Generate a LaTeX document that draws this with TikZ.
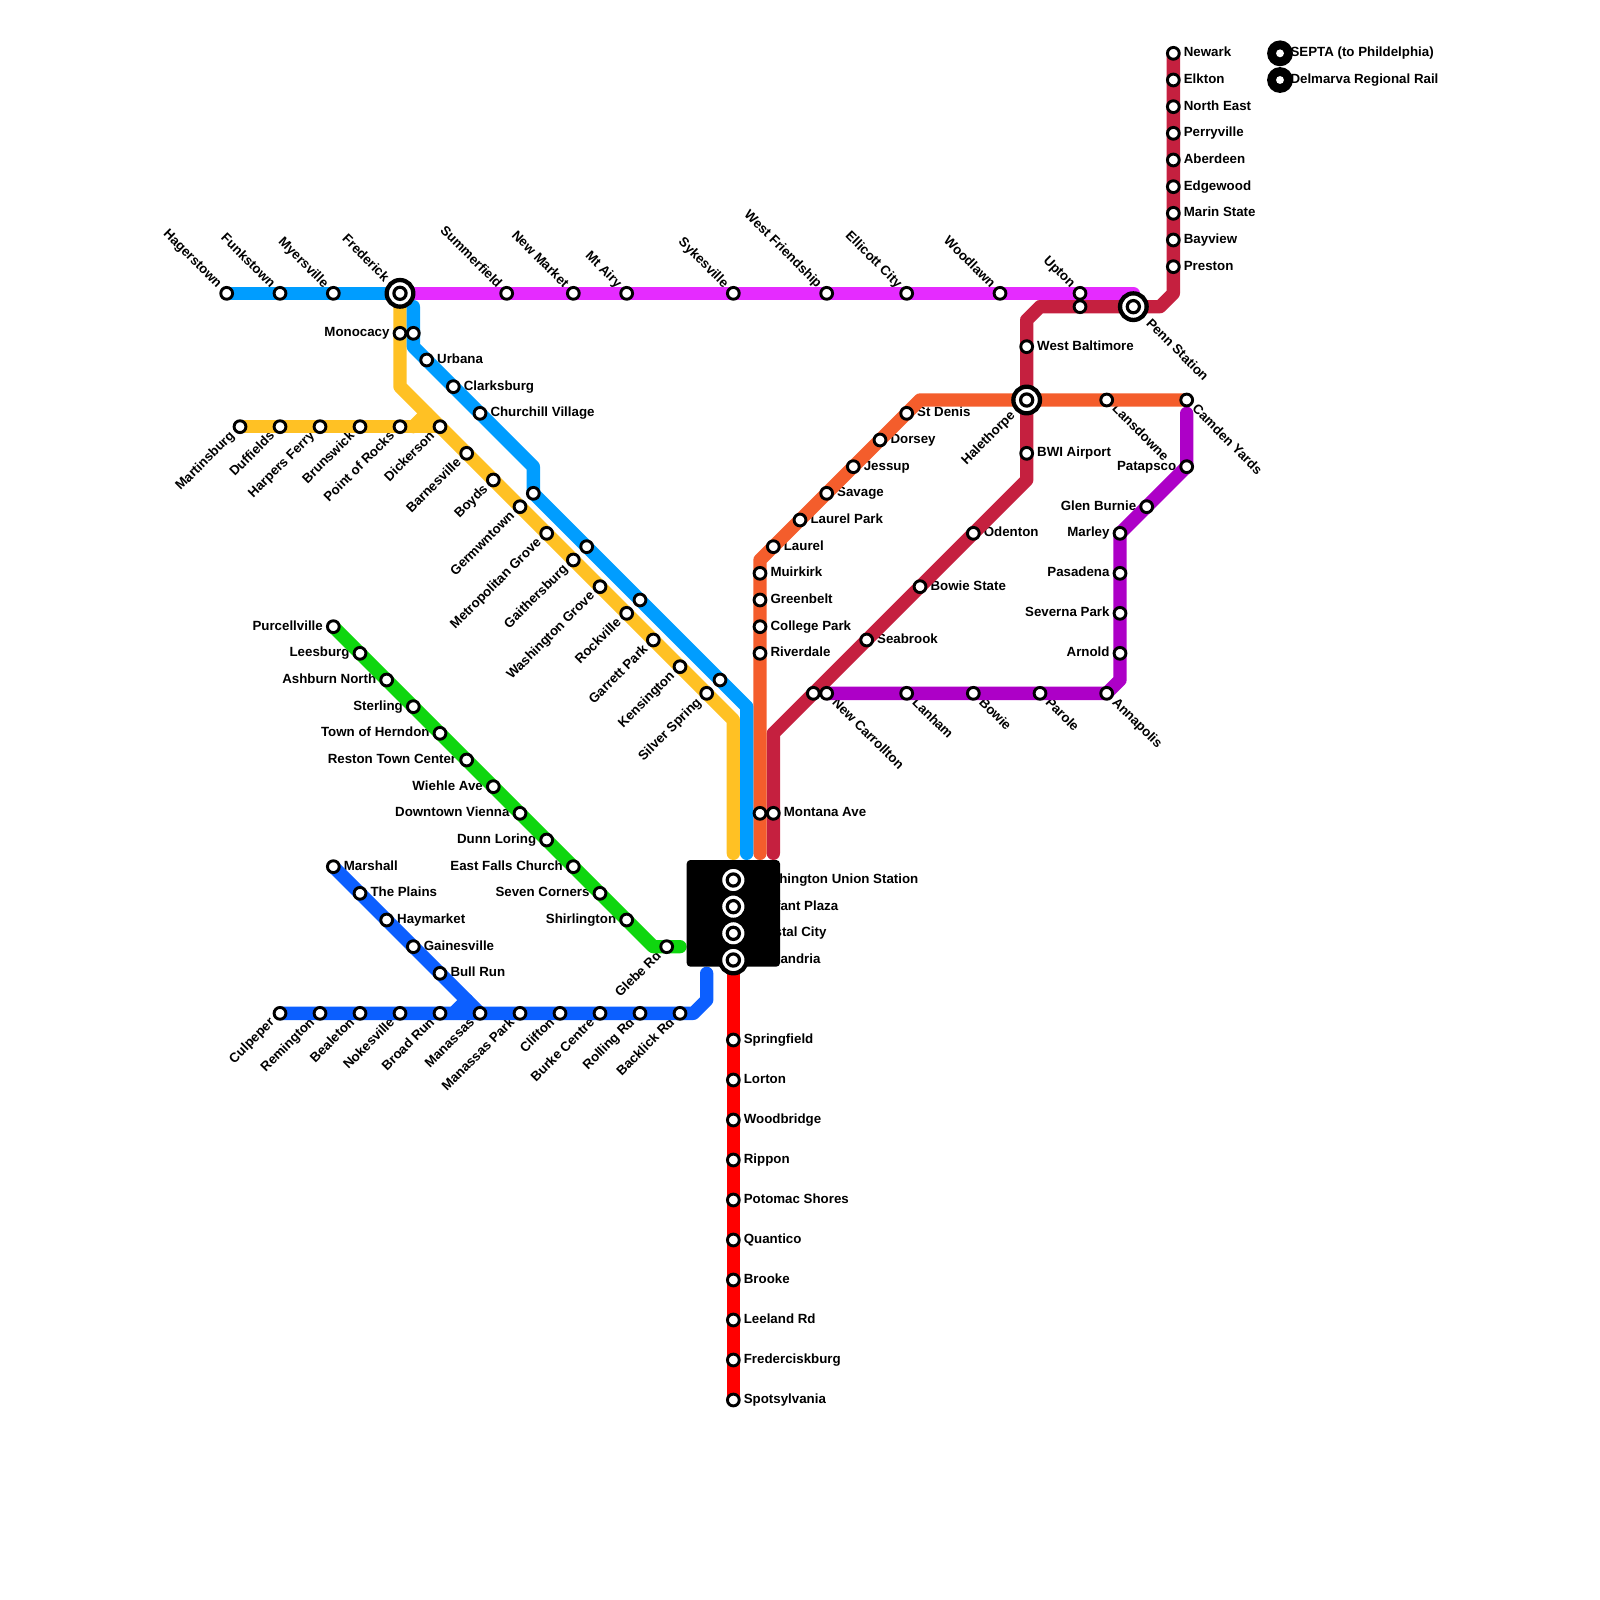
\documentclass[tikz,border=0pt]{standalone}
\usepackage{fontspec}
\setmainfont{Liberation Sans}
\usetikzlibrary{positioning}
\definecolor{figyellow}{HTML}{FFC124}
\definecolor{figblue}{HTML}{009DFF}
\definecolor{figorange}{HTML}{F45D2C}
\definecolor{figcrimson}{HTML}{C5203F}
\definecolor{figpink}{HTML}{E52BFF}
\definecolor{figpurple}{HTML}{AD00C7}
\definecolor{figgreen}{HTML}{0FD60F}
\definecolor{figroyal}{HTML}{0C5FFF}
\definecolor{figred}{HTML}{FF0000}
\pgfdeclarelayer{labels}
\pgfdeclarelayer{lines}
\pgfsetlayers{labels,lines,main}

\begin{document}
\begin{tikzpicture}[
  x=0.25cm, y=-0.25cm,
  metro/.style={line width=0.25cm, line cap=round, line join=round},
  stop/.style={
    circle, draw=black, fill=white, line width=1.55pt,
    minimum size=6.3pt, inner sep=0pt, outer sep=0pt
  },
  ring/.style={
    circle, draw=black, fill=white, line width=2.3pt,
    minimum size=14.2pt, inner sep=0pt, outer sep=0pt
  },
  ringin/.style={
    circle, draw=black, fill=white, line width=1.7pt,
    minimum size=6.5pt, inner sep=0pt, outer sep=0pt
  },
  keydisc/.style={circle, fill=black, minimum size=13.8pt, inner sep=0pt, outer sep=0pt},
  keydot/.style={circle, fill=white, minimum size=4.2pt, inner sep=0pt, outer sep=0pt},
  hubbox/.style={
    rectangle, rounded corners=2pt, fill=black, inner sep=0pt, outer sep=0pt,
    minimum width=1.75cm, minimum height=2cm
  },
  lbl/.style={
    font=\fontsize{7.1pt}{8pt}\selectfont\bfseries, inner sep=0pt,
    text height=0.72em, text depth=0.34em
  },
  lble/.style={lbl, anchor=west, xshift=5.4pt},
  lblw/.style={lbl, anchor=east, xshift=-5.4pt},
  lblnw/.style={lbl, rotate=-45, anchor=east, xshift=-5.4pt},
  lblsw/.style={lbl, rotate=45, anchor=east, xshift=-5.4pt},
  lblse/.style={lbl, rotate=-45, anchor=west, xshift=5.4pt},
  lblnwfar/.style={lbl, rotate=-45, anchor=east, xshift=-10pt},
  lblswfar/.style={lbl, rotate=45, anchor=east, xshift=-10pt},
  lblsefar/.style={lbl, rotate=-45, anchor=west, xshift=11pt},
  lblefar/.style={lbl, anchor=west, xshift=10pt},
]
\useasboundingbox (0,0) rectangle (120,120);

% Stops with a label
\foreach \nm/\px/\py/\dir/\txt in {
  % Top blue line
  hagerstown/17/22/nw/Hagerstown, funkstown/21/22/nw/Funkstown,
  myersville/25/22/nw/Myersville,
  % Pink line
  summerfield/38/22/nw/Summerfield, newmarket/43/22/nw/New Market,
  mtairy/47/22/nw/Mt Airy, sykesville/55/22/nw/Sykesville,
  westfriendship/62/22/nw/West Friendship, ellicott/68/22/nw/Ellicott City,
  woodlawn/75/22/nw/Woodlawn, upton/81/22/nw/Upton,
  % Crimson line
  newark/88/4/e/Newark, elkton/88/6/e/Elkton, northeast/88/8/e/North East,
  perryville/88/10/e/Perryville, aberdeen/88/12/e/Aberdeen,
  edgewood/88/14/e/Edgewood, marin/88/16/e/Marin State,
  bayview/88/18/e/Bayview, preston/88/20/e/Preston,
  westbaltimore/77/26/e/West Baltimore, bwi/77/34/e/BWI Airport,
  odenton/73/40/e/Odenton, bowiestate/69/44/e/Bowie State,
  seabrook/65/48/e/Seabrook, montana/58/61/e/Montana Ave,
  % Orange line
  stdenis/68/31/e/St Denis, dorsey/66/33/e/Dorsey, jessup/64/35/e/Jessup,
  savage/62/37/e/Savage, laurelpark/60/39/e/Laurel Park,
  laurel/58/41/e/Laurel, muirkirk/57/43/e/Muirkirk,
  greenbelt/57/45/e/Greenbelt, collegepark/57/47/e/College Park,
  riverdale/57/49/e/Riverdale, lansdowne/83/30/se/Lansdowne,
  camden/89/30/se/Camden Yards,
  % Purple line
  patapsco/89/35/w/Patapsco, glenburnie/86/38/w/Glen Burnie,
  marley/84/40/w/Marley, pasadena/84/43/w/Pasadena,
  severna/84/46/w/Severna Park, arnold/84/49/w/Arnold,
  annapolis/83/52/se/Annapolis, parole/78/52/se/Parole,
  bowie/73/52/se/Bowie, lanham/68/52/se/Lanham,
  newcarrollton/62/52/se/New Carrollton,
  % Yellow line
  martinsburg/18/32/sw/Martinsburg, duffields/21/32/sw/Duffields,
  harpers/24/32/sw/Harpers Ferry, brunswick/27/32/sw/Brunswick,
  pointofrocks/30/32/sw/Point of Rocks, monocacy/30/25/w/Monocacy,
  dickerson/33/32/sw/Dickerson, barnesville/35/34/sw/Barnesville,
  boyds/37/36/sw/Boyds, germantown/39/38/sw/Germwntown,
  metrogrove/41/40/sw/Metropolitan Grove, gaithersburg/43/42/sw/Gaithersburg,
  washgrove/45/44/sw/Washington Grove, rockville/47/46/sw/Rockville,
  garrett/49/48/sw/Garrett Park, kensington/51/50/sw/Kensington,
  silverspring/53/52/sw/Silver Spring,
  % Lower blue line
  urbana/32/27/e/Urbana, clarksburg/34/29/e/Clarksburg,
  churchill/36/31/e/Churchill Village,
  % Green line
  purcellville/25/47/w/Purcellville, leesburg/27/49/w/Leesburg,
  ashburn/29/51/w/Ashburn North, sterling/31/53/w/Sterling,
  herndon/33/55/w/Town of Herndon, reston/35/57/w/Reston Town Center,
  wiehle/37/59/w/Wiehle Ave, vienna/39/61/w/Downtown Vienna,
  dunnloring/41/63/w/Dunn Loring, fallschurch/43/65/w/East Falls Church,
  sevencorners/45/67/w/Seven Corners, shirlington/47/69/w/Shirlington,
  glebe/50/71/sw/Glebe Rd,
  % Royal blue line
  marshall/25/65/e/Marshall, plains/27/67/e/The Plains,
  haymarket/29/69/e/Haymarket, gainesville/31/71/e/Gainesville,
  bullrun/33/73/e/Bull Run, culpeper/21/76/sw/Culpeper,
  remington/24/76/sw/Remington, bealeton/27/76/sw/Bealeton,
  nokesville/30/76/sw/Nokesville, broadrun/33/76/sw/Broad Run,
  manassas/36/76/sw/Manassas, manassaspark/39/76/sw/Manassas Park,
  clifton/42/76/sw/Clifton, burke/45/76/sw/Burke Centre,
  rolling/48/76/sw/Rolling Rd, backlick/51/76/sw/Backlick Rd,
  % Red line
  springfield/55/78/e/Springfield, lorton/55/81/e/Lorton,
  woodbridge/55/84/e/Woodbridge, rippon/55/87/e/Rippon,
  potomac/55/90/e/Potomac Shores, quantico/55/93/e/Quantico,
  brooke/55/96/e/Brooke, leeland/55/99/e/Leeland Rd,
  fredericksburg/55/102/e/Frederciskburg, spotsylvania/55/105/e/Spotsylvania%
}{
  \node[stop] (\nm) at (\px,\py) {};
  \begin{pgfonlayer}{labels}
    \node[lbl\dir] (\nm-lbl) at (\nm) {\txt};
  \end{pgfonlayer}
}

% Second stop of a pair
\node[stop] (upton2) at (81,23) {};
\node[stop] (monocacy2) at (31,25) {};
\node[stop] (montana2) at (57,61) {};
\node[stop] (carrollton2) at (61,52) {};
\node[stop] (blue37) at (40,37) {};
\node[stop] (blue41) at (44,41) {};
\node[stop] (blue45) at (48,45) {};
\node[stop] (blue51) at (54,51) {};

% Interchanges
\foreach \nm/\px/\py/\dir/\txt in {
  frederick/30/22/nwfar/Frederick, halethorpe/77/30/swfar/Halethorpe,
  penn/85/23/sefar/Penn Station, union/55/66/efar/Washington Union Station,
  lenfant/55/68/efar/Lenfant Plaza, crystal/55/70/efar/Crystal City,
  alexandria/55/72/efar/Alexandria%
}{
  \node[ring] (\nm) at (\px,\py) {};
  \node[ringin] (\nm-in) at (\nm) {};
  \begin{pgfonlayer}{labels}
    \node[lbl\dir] (\nm-lbl) at (\nm) {\txt};
  \end{pgfonlayer}
}

% Key
\node[keydisc] (septa) at (96,4) {};
\node[keydot] (septa-in) at (septa) {};
\node[keydisc] (delmarva) at (96,6) {};
\node[keydot] (delmarva-in) at (delmarva) {};
\begin{pgfonlayer}{labels}
  \node[lble] (septa-lbl) at (septa) {SEPTA (to Phildelphia)};
  \node[lble] (delmarva-lbl) at (delmarva) {Delmarva Regional Rail};
\end{pgfonlayer}

% Bends and line ends
\coordinate (yellowa) at (30,29);
\coordinate (yellowb) at (55,54);
\coordinate (yellowc) at (55,64);
\coordinate (yellowd) at (31,32);
\coordinate (yellowe) at (32,31);
\coordinate (bluea) at (31,23);
\coordinate (blueb) at (31,26);
\coordinate (bluec) at (40,35);
\coordinate (blued) at (56,53);
\coordinate (bluee) at (56,64);
\coordinate (pinkend) at (85,22);
\coordinate (crimsona) at (88,22);
\coordinate (crimsonb) at (87,23);
\coordinate (crimsonc) at (78,23);
\coordinate (crimsond) at (77,24);
\coordinate (crimsone) at (77,36);
\coordinate (crimsonf) at (58,55);
\coordinate (crimsong) at (58,64);
\coordinate (orangea) at (57,64);
\coordinate (orangeb) at (57,42);
\coordinate (orangec) at (69,30);
\coordinate (purplea) at (89,31);
\coordinate (purpleb) at (84,51);
\coordinate (greena) at (49,71);
\coordinate (greenb) at (51,71);
\coordinate (royala) at (52,76);
\coordinate (royalb) at (53,75);
\coordinate (royalc) at (53,73);
\coordinate (royald) at (34,76);
\coordinate (royale) at (35,75);

\begin{pgfonlayer}{lines}
  % Lines
  \draw[metro, figpink] (frederick.center) -- (pinkend);
  \draw[metro, figcrimson] (newark.center) -- (crimsona) -- (crimsonb)
    -- (crimsonc) -- (crimsond) -- (crimsone) -- (crimsonf) -- (crimsong);
  \draw[metro, figorange] (orangea) -- (orangeb) -- (orangec) -- (camden.center);
  \draw[metro, figpurple] (purplea) -- (patapsco.center) -- (marley.center)
    -- (purpleb) -- (annapolis.center) -- (newcarrollton.center);
  \draw[metro, figyellow] (frederick.center) -- (yellowa) -- (yellowb) -- (yellowc);
  \draw[metro, figyellow] (martinsburg.center) -- (dickerson.center);
  \draw[metro, figyellow] (yellowd) -- (yellowe);
  \draw[metro, figblue] (hagerstown.center) -- (frederick.center);
  \draw[metro, figblue] (bluea) -- (blueb) -- (bluec) -- (blue37.center)
    -- (blued) -- (bluee);
  \draw[metro, figgreen] (purcellville.center) -- (greena) -- (greenb);
  \draw[metro, figroyal] (marshall.center) -- (manassas.center);
  \draw[metro, figroyal] (culpeper.center) -- (royala) -- (royalb) -- (royalc);
  \draw[metro, figroyal] (royald) -- (royale);
  \draw[metro, figred] (alexandria.center) -- (spotsylvania.center);

  % Central block
  \node[hubbox] (hub) at (55,68.5) {};
\end{pgfonlayer}
\end{tikzpicture}
\end{document}
